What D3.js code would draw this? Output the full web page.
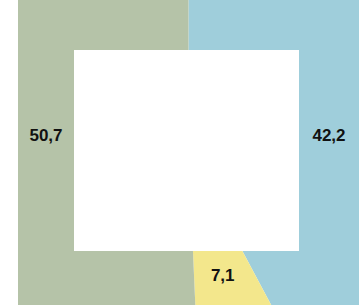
<!DOCTYPE html>
<html>
<head>
<meta charset="utf-8">
<script src="https://cdn.jsdelivr.net/npm/d3@7"></script>
<style>
  body { margin: 0; background: #fff; }
  svg { display: block; }
</style>
</head>
<body>
<svg></svg>
<script>
var width = 359;
var height = 306;
var svg = d3.select("svg");
svg.attr("width", width).attr("height", height);

// data, clockwise from 12 o'clock
var labels = ["42,2", "7,1", "50,7"];
var values = [42.2, 7.1, 50.7];
var colors = ["#9fcedb", "#f3e78c", "#b5c3a8"];

// outer frame and inner white hole
var outer = {left: 18, top: 0, right: 359, bottom: 305};
var inner = {left: 74, top: 50, right: 299, bottom: 251};
var cx = 188.5, cy = 150;
var sideLabelY = 134.5;
var bottomLabelY = 275;

var pie = d3.pie().sort(null).value(function(d) { return d; });
var arcs = pie(values);

var bigArc = d3.arc().innerRadius(0).outerRadius(1000);

svg.append("clipPath").attr("id", "frame")
  .append("rect")
    .attr("x", outer.left).attr("y", outer.top)
    .attr("width", outer.right - outer.left)
    .attr("height", outer.bottom - outer.top);

var g = svg.append("g").attr("clip-path", "url(#frame)");

g.append("g")
    .attr("transform", "translate(" + cx + "," + cy + ")")
  .selectAll("path")
  .data(arcs)
  .enter().append("path")
    .attr("d", bigArc)
    .attr("fill", function(d, i) { return colors[i]; });

g.append("rect")
    .attr("x", inner.left).attr("y", inner.top)
    .attr("width", inner.right - inner.left)
    .attr("height", inner.bottom - inner.top)
    .attr("fill", "#fff");

// label position: middle of the band the slice mostly sits in
function labelPos(d) {
  var a = (d.startAngle + d.endAngle) / 2;
  var dx = Math.sin(a), dy = -Math.cos(a);
  var midL = (outer.left + inner.left) / 2, midR = (outer.right + inner.right) / 2;
  if (Math.abs(dx) > Math.abs(dy)) {
    return [dx > 0 ? midR : midL, sideLabelY];
  }
  var t = (bottomLabelY - cy) / dy;
  return [cx + dx * t, bottomLabelY];
}

svg.append("g").selectAll("text")
  .data(arcs)
  .enter().append("text")
    .attr("x", function(d) { return labelPos(d)[0]; })
    .attr("y", function(d) { return labelPos(d)[1]; })
    .attr("text-anchor", "middle")
    .attr("dy", "0.36em")
    .style("font-family", "Liberation Sans, Arial, sans-serif")
    .style("font-weight", "bold")
    .style("font-size", "17px")
    .attr("fill", "#111")
    .text(function(d, i) { return labels[i]; });
</script>
</body>
</html>
